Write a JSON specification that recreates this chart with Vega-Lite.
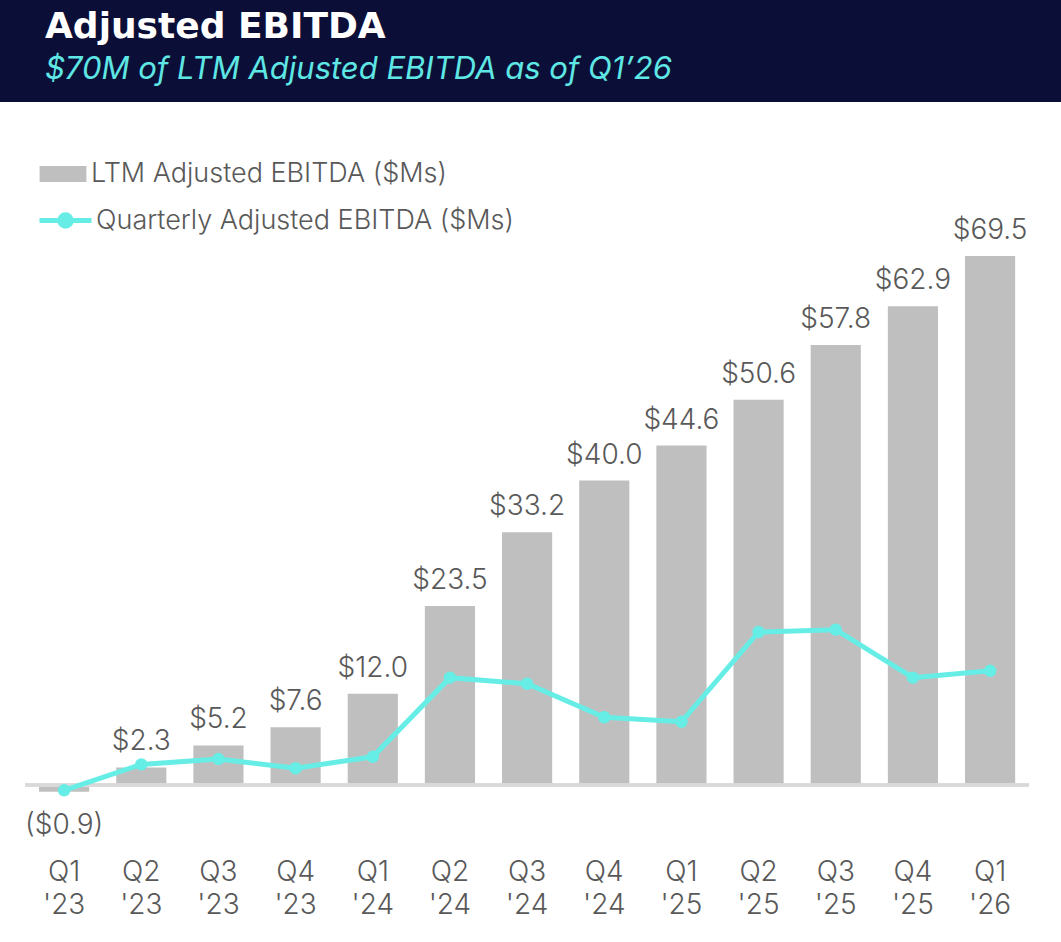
{
  "$schema": "https://vega.github.io/schema/vega-lite/v6.json",
  "description": "LTM and quarterly Adjusted EBITDA, Q1'23 to Q1'26.",
  "width": 1061,
  "height": 840,
  "autosize": {"type": "none"},
  "padding": {"top": 102, "left": 0, "right": 0, "bottom": 0},
  "background": "#0b0f38",
  "view": {"fill": "white", "stroke": null},
  "title": {
    "text": "Adjusted EBITDA",
    "subtitle": "$70M of LTM Adjusted EBITDA as of Q1’26",
    "anchor": "start",
    "frame": "group",
    "dx": 45,
    "offset": 16,
    "font": "DejaVu Sans",
    "fontSize": 36,
    "fontWeight": "bold",
    "color": "white",
    "subtitleFont": "Inter",
    "subtitleFontSize": 31,
    "subtitleFontStyle": "italic",
    "subtitleFontWeight": 400,
    "subtitleColor": "#5ee7e4",
    "subtitlePadding": 9
  },
  "data": {
    "values": [
      {"quarter": "Q1 '23", "ltm": -0.9, "quarterly": -0.7, "label": "($0.9)"},
      {"quarter": "Q2 '23", "ltm": 2.3, "quarterly": 2.7, "label": "$2.3"},
      {"quarter": "Q3 '23", "ltm": 5.2, "quarterly": 3.4, "label": "$5.2"},
      {"quarter": "Q4 '23", "ltm": 7.6, "quarterly": 2.2, "label": "$7.6"},
      {"quarter": "Q1 '24", "ltm": 12.0, "quarterly": 3.7, "label": "$12.0"},
      {"quarter": "Q2 '24", "ltm": 23.5, "quarterly": 14.1, "label": "$23.5"},
      {"quarter": "Q3 '24", "ltm": 33.2, "quarterly": 13.3, "label": "$33.2"},
      {"quarter": "Q4 '24", "ltm": 40.0, "quarterly": 8.9, "label": "$40.0"},
      {"quarter": "Q1 '25", "ltm": 44.6, "quarterly": 8.3, "label": "$44.6"},
      {"quarter": "Q2 '25", "ltm": 50.6, "quarterly": 20.1, "label": "$50.6"},
      {"quarter": "Q3 '25", "ltm": 57.8, "quarterly": 20.4, "label": "$57.8"},
      {"quarter": "Q4 '25", "ltm": 62.9, "quarterly": 14.1, "label": "$62.9"},
      {"quarter": "Q1 '26", "ltm": 69.5, "quarterly": 15.0, "label": "$69.5"}
    ]
  },
  "encoding": {
    "x": {
      "field": "quarter",
      "type": "ordinal",
      "sort": null,
      "scale": {"paddingInner": 0.35, "paddingOuter": 0.55, "align": 0.46},
      "axis": {
        "title": null,
        "orient": "bottom",
        "offset": -92,
        "domain": false,
        "ticks": false,
        "tickSize": 0,
        "labelPadding": 8,
        "labelAngle": 0,
        "labelBaseline": "top",
        "labelExpr": "split(datum.label, ' ')",
        "labelFont": "Inter",
        "labelFontSize": 28,
        "labelFontWeight": 300,
        "labelLineHeight": 33,
        "labelColor": "#595959",
        "labelBound": false,
        "labelOverlap": false
      }
    }
  },
  "layer": [
    {
      "mark": {"type": "bar"},
      "encoding": {
        "y": {
          "field": "ltm",
          "type": "quantitative",
          "scale": {"domain": [-20.63, 89.73], "nice": false, "zero": false},
          "axis": null
        },
        "fill": {
          "datum": "LTM Adjusted EBITDA ($Ms)",
          "scale": {"range": ["#bfbfbf"]},
          "legend": {
            "title": null,
            "orient": "none",
            "legendX": 37,
            "legendY": 46,
            "padding": 0,
            "symbolType": "M-0.9,-0.31H0.9V0.31H-0.9Z",
            "symbolSize": 2704,
            "symbolStrokeWidth": 0,
            "labelOffset": 2,
            "labelFont": "Inter",
            "labelFontSize": 27,
            "labelFontWeight": 300,
            "labelColor": "#595959",
            "labelLimit": 600
          }
        }
      }
    },
    {
      "mark": {"type": "rule", "color": "#d9d9d9", "strokeWidth": 2.5},
      "encoding": {
        "x": {"datum": "Q1 '23", "bandPosition": -0.28},
        "x2": {"datum": "Q1 '26", "bandPosition": 1.27},
        "y": {"datum": 0}
      }
    },
    {
      "mark": {
        "type": "line",
        "strokeWidth": 5,
        "point": {"filled": true, "size": 110, "color": "#66eee6"}
      },
      "encoding": {
        "y": {"field": "quarterly", "type": "quantitative"},
        "stroke": {
          "datum": "Quarterly Adjusted EBITDA ($Ms)",
          "scale": {"range": ["#66eee6"]},
          "legend": {
            "title": null,
            "orient": "none",
            "legendX": 37,
            "legendY": 90,
            "padding": 0,
            "symbolType": "M-1,0H1M-0.22,0A0.22,0.22,0,1,1,0.22,0A0.22,0.22,0,1,1,-0.22,0",
            "symbolSize": 2704,
            "symbolStrokeWidth": 5,
            "labelOffset": 2,
            "labelFont": "Inter",
            "labelFontSize": 27,
            "labelFontWeight": 300,
            "labelColor": "#595959",
            "labelLimit": 600,
            "encode": {"symbols": {"update": {"fill": {"value": "#66eee6"}}}}
          }
        }
      }
    },
    {
      "transform": [{"filter": "datum.ltm >= 0"}],
      "mark": {
        "type": "text",
        "baseline": "alphabetic",
        "dy": -17,
        "font": "Inter",
        "fontSize": 28,
        "fontWeight": 300,
        "color": "#595959"
      },
      "encoding": {
        "y": {"field": "ltm", "type": "quantitative"},
        "text": {"field": "label"}
      }
    },
    {
      "transform": [{"filter": "datum.ltm < 0"}],
      "mark": {
        "type": "text",
        "baseline": "alphabetic",
        "dy": 42,
        "font": "Inter",
        "fontSize": 28,
        "fontWeight": 300,
        "color": "#595959"
      },
      "encoding": {
        "y": {"field": "ltm", "type": "quantitative"},
        "text": {"field": "label"}
      }
    }
  ]
}
